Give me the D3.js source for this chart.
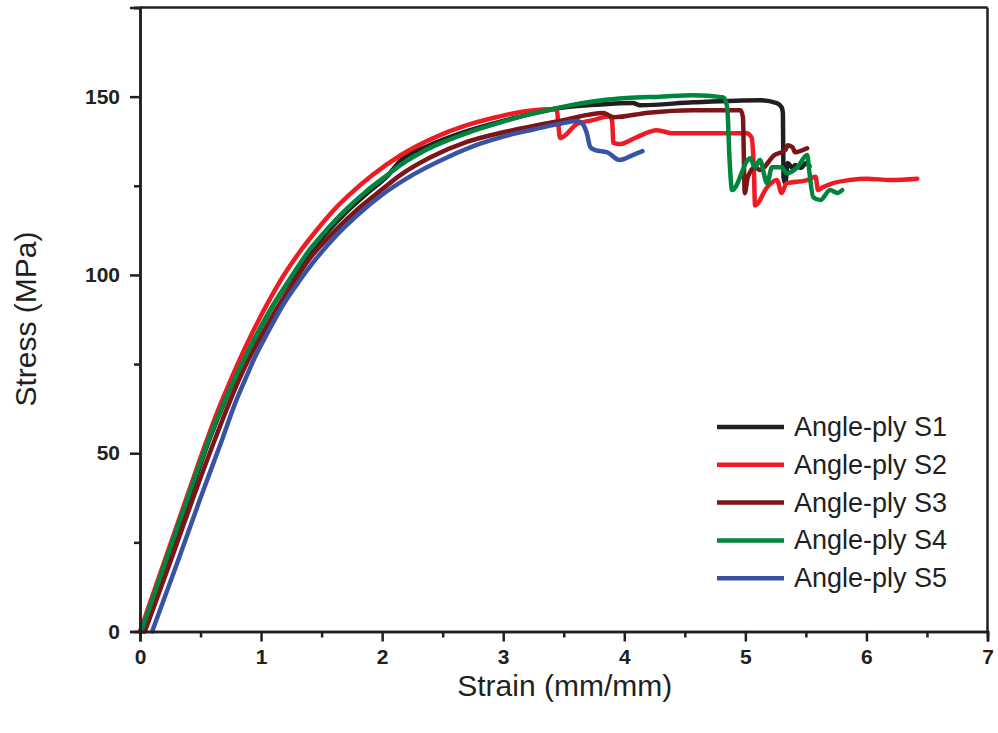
<!DOCTYPE html>
<html>
<head>
<meta charset="utf-8">
<script src="https://cdn.jsdelivr.net/npm/d3@7"></script>
<style>
	body { margin: 0; background: #fff; }
	svg { display: block; }
</style>
</head>
<body>
<svg id="chart"></svg>
<script>
// Stress-strain curves
const seriesNames = ["Angle-ply S1", "Angle-ply S2", "Angle-ply S3", "Angle-ply S4", "Angle-ply S5"];
const seriesColors = ["#231f20", "#ed1c24", "#7b1517", "#00853f", "#3953a4"];

const s1Strain = [0.02, 0.2, 0.4, 0.58, 0.7, 0.78, 0.88, 0.97, 1.1, 1.26, 1.41, 1.56, 1.71, 1.88, 2.05, 2.15, 2.37, 2.7, 3.0, 3.25, 3.47, 3.8, 4.07, 4.13, 4.57, 5.12, 5.26, 5.3, 5.31, 5.315, 5.33, 5.35, 5.39, 5.41, 5.46, 5.5, 5.53];
const s1Stress = [0, 17.5, 37, 54.5, 64.5, 70.5, 77.5, 83.5, 91.5, 99.5, 106.5, 112.5, 117.8, 123, 128, 132, 136, 140.3, 143.2, 145.3, 146.8, 147.8, 148.2, 147.6, 148.4, 149, 148.2, 147, 145.4, 127.4, 125.7, 131.4, 130, 130.8, 130, 131.4, 130.5];

const s2Strain = [0, 0.2, 0.4, 0.55, 0.65, 0.73, 0.82, 0.91, 1.05, 1.18, 1.32, 1.46, 1.59, 1.73, 1.92, 2.15, 2.45, 2.7, 2.95, 3.2, 3.44, 3.47, 3.61, 3.74, 3.88, 3.9, 3.91, 3.96, 4.1, 4.27, 4.4, 5.01, 5.05, 5.07, 5.08, 5.18, 5.26, 5.3, 5.34, 5.51, 5.58, 5.6, 5.64, 5.72, 5.86, 6.0, 6.2, 6.42];
const s2Stress = [0, 19.5, 39, 53.5, 62.5, 69, 76, 82.5, 91.8, 99.5, 106.5, 112.6, 117.8, 122.5, 128, 133.5, 138.8, 142, 144.3, 146, 146.5, 138.4, 142.3, 143.4, 144.5, 143, 137, 136.7, 138.6, 140.6, 139.7, 139.7, 138.6, 130, 119.5, 124.6, 126.6, 123, 125.7, 126.6, 127.5, 123.8, 124.6, 125.7, 126.6, 127, 126.6, 127];

const s3Strain = [0.04, 0.25, 0.45, 0.62, 0.73, 0.81, 0.9, 0.98, 1.12, 1.27, 1.4, 1.6, 1.8, 2.0, 2.15, 2.4, 2.7, 3.0, 3.25, 3.47, 3.83, 3.91, 4.2, 4.57, 4.96, 4.98, 4.995, 5.02, 5.08, 5.12, 5.24, 5.33, 5.35, 5.39, 5.41, 5.51];
const s3Stress = [0, 19.5, 38.5, 54, 63.5, 70, 76.5, 81.5, 90, 98, 104.5, 112, 118.5, 124, 128, 133, 137.3, 140, 141.8, 143.2, 145.4, 144.2, 145.5, 146.2, 146.2, 144.2, 122.9, 127.4, 130.2, 129.4, 133.6, 135, 136.4, 135.8, 134.4, 135.5];

const s4Strain = [0.01, 0.2, 0.4, 0.58, 0.69, 0.77, 0.87, 0.96, 1.1, 1.25, 1.4, 1.55, 1.7, 1.87, 2.05, 2.15, 2.37, 2.7, 3.0, 3.25, 3.47, 3.8, 4.02, 4.3, 4.57, 4.82, 4.85, 4.87, 4.89, 5.04, 5.08, 5.12, 5.18, 5.22, 5.3, 5.34, 5.43, 5.51, 5.53, 5.56, 5.62, 5.7, 5.76, 5.8];
const s4Stress = [0, 18.5, 38, 55, 64, 70, 77, 83, 91.5, 99.5, 107, 113, 118.3, 123.5, 128.2, 130.8, 135.2, 139.8, 143, 145.3, 147, 148.9, 149.6, 150, 150.4, 149.8, 147, 132, 123.8, 132.7, 130.2, 132.2, 125.7, 130.2, 130.2, 128.5, 130.2, 133.6, 128.5, 121.8, 121, 123.8, 123, 123.8];

const s5Strain = [0.1, 0.3, 0.5, 0.68, 0.78, 0.86, 0.95, 1.05, 1.18, 1.32, 1.43, 1.62, 1.82, 2.0, 2.2, 2.54, 2.81, 3.0, 3.25, 3.45, 3.61, 3.65, 3.69, 3.72, 3.76, 3.86, 3.96, 4.07, 4.15];
const s5Stress = [0, 18.5, 37.5, 54, 63.5, 70, 77, 83.5, 91.5, 98.5, 103.5, 111, 117.5, 122.5, 127, 133, 136.8, 138.8, 140.8, 142.3, 143.2, 142.6, 139.8, 135.8, 135, 134.4, 132.2, 133.6, 134.7];

const strainList = [s1Strain, s2Strain, s3Strain, s4Strain, s5Strain];
const stressList = [s1Stress, s2Stress, s3Stress, s4Stress, s5Stress];

const xTicks = [0, 1, 2, 3, 4, 5, 6, 7];
const xMinorTicks = [0.5, 1.5, 2.5, 3.5, 4.5, 5.5, 6.5];
const yTicks = [0, 50, 100, 150];
const yMinorTicks = [25, 75, 125, 175];

const width = 998;
const height = 733;
const margin = { top: 7.5, right: 10.5, bottom: 101.5, left: 140 };
const plotW = width - margin.left - margin.right;
const plotH = height - margin.top - margin.bottom;

const svg = d3.select("#chart")
	.attr("width", width)
	.attr("height", height);

const g = svg.append("g")
	.attr("transform", "translate(" + margin.left + "," + margin.top + ")");

const xScale = d3.scaleLinear().domain([0, 7]).range([0, plotW]);
const yScale = d3.scaleLinear().domain([0, 175]).range([plotH, 0]);

// curves, S1 drawn first so later series sit on top
const line = d3.line()
	.x(d => xScale(d[0]))
	.y(d => yScale(d[1]))
	.curve(d3.curveMonotoneX);

seriesNames.forEach((name, i) => {
	const pts = strainList[i].map((s, j) => [s, stressList[i][j]]);
	g.append("path")
		.datum(pts)
		.attr("fill", "none")
		.attr("stroke", seriesColors[i])
		.attr("stroke-width", 4.5)
		.attr("stroke-linejoin", "round")
		.attr("stroke-linecap", "round")
		.attr("d", line);
});

// frame
g.append("line")
	.attr("x1", 0).attr("x2", plotW).attr("y1", 0).attr("y2", 0)
	.attr("stroke", "#231f20").attr("stroke-width", 2.5);
g.append("line")
	.attr("x1", plotW).attr("x2", plotW).attr("y1", 0).attr("y2", plotH)
	.attr("stroke", "#231f20").attr("stroke-width", 2.5);

function styleAxis(sel) {
	sel.select(".domain").attr("stroke", "#231f20").attr("stroke-width", 2.5);
	sel.selectAll(".tick line").attr("stroke", "#231f20").attr("stroke-width", 2.5);
	sel.selectAll("text")
		.attr("fill", "#231f20")
		.style("font-family", "'Liberation Sans', Arial, sans-serif")
		.style("font-size", "21px")
		.style("font-weight", "bold");
}

// minor ticks
g.append("g")
	.attr("transform", "translate(0," + plotH + ")")
	.call(d3.axisBottom(xScale).tickValues(xMinorTicks).tickSize(6).tickFormat(""))
	.call(styleAxis);
g.append("g")
	.call(d3.axisLeft(yScale).tickValues(yMinorTicks).tickSize(6).tickFormat(""))
	.call(styleAxis);

// major ticks
g.append("g")
	.attr("transform", "translate(0," + plotH + ")")
	.call(d3.axisBottom(xScale).tickValues(xTicks).tickSize(10).tickPadding(8).tickFormat(d3.format("d")))
	.call(styleAxis);
g.append("g")
	.call(d3.axisLeft(yScale).tickValues(yTicks).tickSize(10).tickPadding(10).tickFormat(d3.format("d")))
	.call(styleAxis);

// axis titles
svg.append("text")
	.attr("x", margin.left + plotW / 2 + 1)
	.attr("y", 696)
	.attr("text-anchor", "middle")
	.attr("fill", "#231f20")
	.style("font-family", "'Liberation Sans', Arial, sans-serif")
	.style("font-size", "30px")
	.text("Strain (mm/mm)");

svg.append("text")
	.attr("transform", "translate(36," + 319 + ") rotate(-90)")
	.attr("text-anchor", "middle")
	.attr("fill", "#231f20")
	.style("font-family", "'Liberation Sans', Arial, sans-serif")
	.style("font-size", "30px")
	.text("Stress (MPa)");

// legend
const legend = svg.append("g").attr("transform", "translate(717,427)");
const rows = legend.selectAll("g")
	.data(seriesNames)
	.enter()
	.append("g")
	.attr("transform", (d, i) => "translate(0," + i * 37.8 + ")");
rows.append("line")
	.attr("x1", 0).attr("x2", 67)
	.attr("stroke", (d, i) => seriesColors[i])
	.attr("stroke-width", 4.5);
rows.append("text")
	.attr("x", 77)
	.attr("y", 9)
	.attr("fill", "#231f20")
	.style("font-family", "'Liberation Sans', Arial, sans-serif")
	.style("font-size", "27px")
	.text(d => d);
</script>
</body>
</html>
